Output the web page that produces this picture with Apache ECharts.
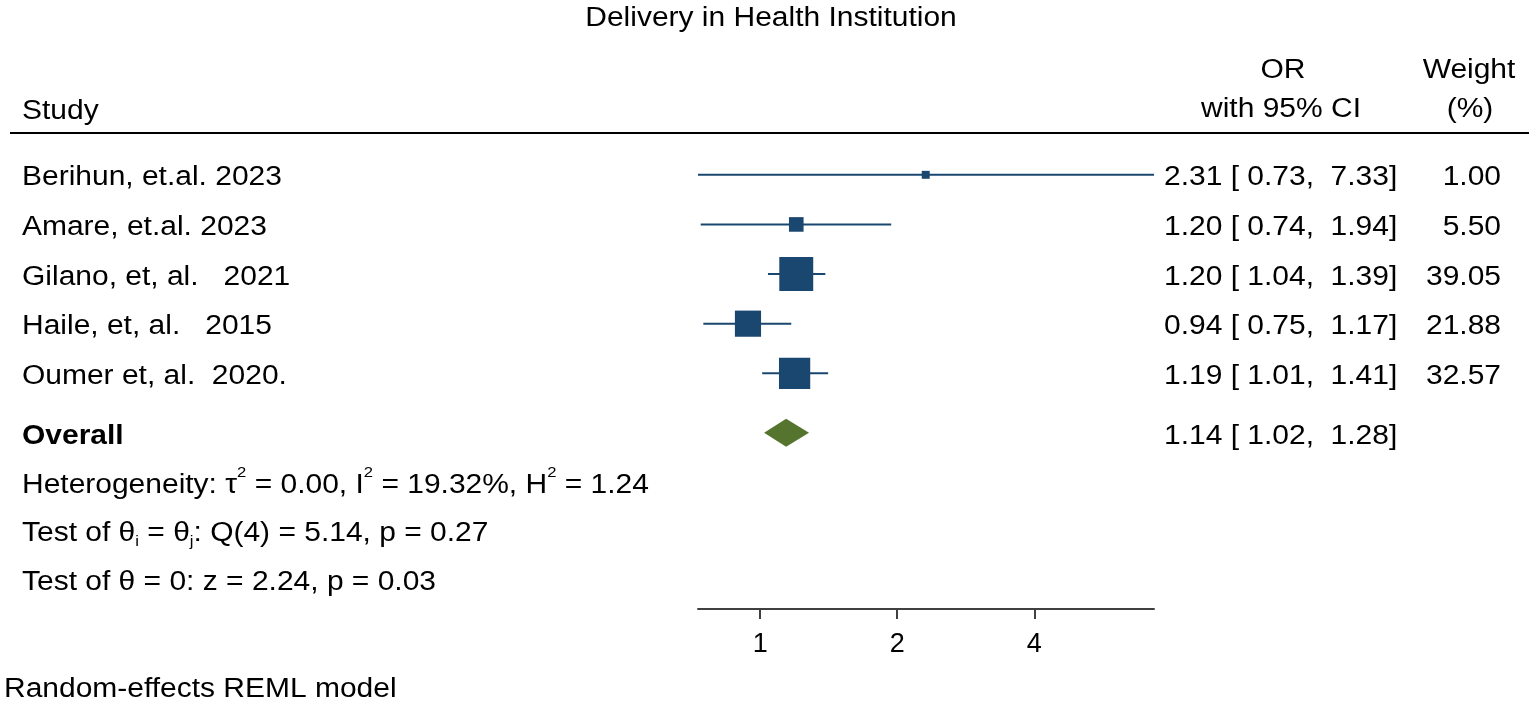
<!DOCTYPE html>
<html>
<head>
<meta charset="utf-8">
<script src="https://cdn.jsdelivr.net/npm/echarts@6.0.0/dist/echarts.min.js"></script>
<style>
  html, body { margin: 0; padding: 0; background: #fff; }
  #main { width: 1536px; height: 707px; }
</style>
</head>
<body>
<div id="main"></div>
<script>
// studies, top to bottom
const studies = ['Berihun, et.al. 2023', 'Amare, et.al. 2023', 'Gilano, et, al.   2021', 'Haile, et, al.   2015', 'Oumer et, al.  2020.'];
const orValues = [2.31, 1.20, 1.20, 0.94, 1.19];
const ciLower = [0.73, 0.74, 1.04, 0.75, 1.01];
const ciUpper = [7.33, 1.94, 1.39, 1.17, 1.41];
const weights = [1.00, 5.50, 39.05, 21.88, 32.57];
// overall: OR, lower, upper
const overall = [1.14, 1.02, 1.28];
const xTicks = [1, 2, 4];
// heterogeneity / tests
const tau2 = '0.00', i2 = '19.32', h2 = '1.24';
const qStat = '5.14', qDf = 4, qP = '0.27';
const zStat = '2.24', zP = '0.03';

const FONT = '"Liberation Sans", Arial, sans-serif';
const FS = 27;
const SX = 1.11;      // reference text is a bit wide
const NAVY = '#1a476f';
const GREEN = '#55752f';
const overallRow = 6.2;

function fmt(v) { return v.toFixed(2); }
function ciText(o, l, h) { return fmt(o) + ' [ ' + fmt(l) + ',  ' + fmt(h) + ']'; }

function txt(x, y, text, align) {
  return {
    type: 'text', x: x, y: y, scaleX: SX,
    style: {
      text: text, fontSize: FS, fontFamily: FONT, fill: '#000',
      align: align, textAlign: align, verticalAlign: 'middle', textVerticalAlign: 'middle'
    }
  };
}

let studyData = studies.map(function (s, i) {
  return [ciLower[i], ciUpper[i], orValues[i], i + 1, weights[i]];
});

let option = {
  backgroundColor: '#fff',
  animation: false,
  grid: { left: 698, top: 150, width: 456, height: 459 },
  xAxis: {
    type: 'log',
    logBase: 2,
    min: 0.73,
    max: 7.33,
    splitLine: { show: false },
    axisLine: { onZero: false, lineStyle: { color: '#404040', width: 2 } },
    axisTick: { customValues: xTicks, length: 10, lineStyle: { color: '#404040', width: 2 } },
    axisLabel: { customValues: xTicks, margin: 22, fontSize: FS, color: '#000', fontFamily: FONT }
  },
  yAxis: { type: 'value', inverse: true, min: 0.5, max: 9.75, show: false },
  series: [
    {
      // study rows: CI line, weighted box, and table text
      type: 'custom',
      clip: false,
      encode: { x: [0, 1, 2], y: 3 },
      data: studyData,
      renderItem: function (params, api) {
        let i = params.dataIndex;
        let row = api.value(3);
        let lo = api.coord([api.value(0), row]);
        let hi = api.coord([api.value(1), row]);
        let c = api.coord([api.value(2), row]);
        let s = 3 + 4.95 * Math.sqrt(api.value(4));
        let ty = c[1] + 3;
        return {
          type: 'group',
          children: [
            { type: 'line', shape: { x1: lo[0], y1: lo[1], x2: hi[0], y2: hi[1] }, style: { stroke: NAVY, lineWidth: 2 } },
            { type: 'rect', shape: { x: c[0] - s / 2, y: c[1] - s / 2, width: s, height: s }, style: { fill: NAVY } },
            txt(22, ty, studies[i], 'left'),
            txt(1164, ty, ciText(orValues[i], ciLower[i], ciUpper[i]), 'left'),
            txt(1501, ty, fmt(weights[i]), 'right')
          ]
        };
      }
    },
    {
      // overall diamond
      type: 'custom',
      clip: false,
      encode: { x: [0, 1, 2], y: 3 },
      data: [[overall[1], overall[2], overall[0], overallRow]],
      renderItem: function (params, api) {
        let row = api.value(3);
        let lo = api.coord([api.value(0), row]);
        let hi = api.coord([api.value(1), row]);
        let c = api.coord([api.value(2), row]);
        let h = 14;
        let label = txt(22, c[1] + 4, 'Overall', 'left');
        label.style.fontWeight = 'bold';
        return {
          type: 'group',
          children: [
            { type: 'polygon', shape: { points: [[lo[0], c[1]], [c[0], c[1] - h], [hi[0], c[1]], [c[0], c[1] + h]] }, style: { fill: GREEN } },
            label,
            txt(1164, c[1] + 4, ciText(overall[0], overall[1], overall[2]), 'left')
          ]
        };
      }
    }
  ],
  graphic: [
    txt(771, 19, 'Delivery in Health Institution', 'center'),
    txt(22, 112, 'Study', 'left'),
    txt(1283, 71, 'OR', 'center'),
    txt(1281, 110, 'with 95% CI', 'center'),
    txt(1469, 71, 'Weight', 'center'),
    txt(1470, 110, '(%)', 'center'),
    { type: 'line', shape: { x1: 10, y1: 133, x2: 1529, y2: 133 }, style: { stroke: '#000', lineWidth: 2 } },
    txt(22, 486, 'Heterogeneity: τ{sup|2} = ' + tau2 + ', I{sup|2} = ' + i2 + '%, H{sup|2} = ' + h2, 'left'),
    txt(22, 534, 'Test of θ{sub|i} = θ{sub|j}: Q(' + qDf + ') = ' + qStat + ', p = ' + qP, 'left'),
    txt(22, 583, 'Test of θ = 0: z = ' + zStat + ', p = ' + zP, 'left'),
    txt(4, 690, 'Random-effects REML model', 'left')
  ]
};

// rich text for the super/subscripts
option.graphic[7].style.lineHeight = 42;
option.graphic[7].style.rich = { sup: { fontSize: 15, lineHeight: 15, verticalAlign: 'top', fontFamily: FONT, fill: '#000' } };
option.graphic[8].style.lineHeight = 30;
option.graphic[8].style.rich = { sub: { fontSize: 15, lineHeight: 15, verticalAlign: 'bottom', fontFamily: FONT, fill: '#000' } };

let myChart = echarts.init(document.getElementById('main'));
myChart.setOption(option);
</script>
</body>
</html>
